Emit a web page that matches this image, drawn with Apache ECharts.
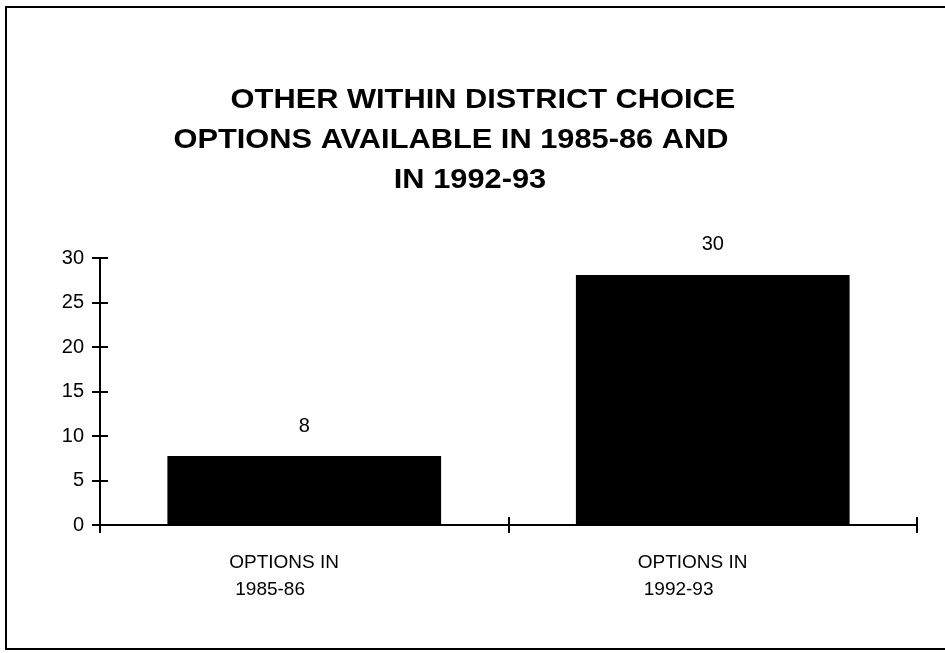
<!DOCTYPE html>
<html>
<head>
<meta charset="utf-8">
<script src="https://cdn.jsdelivr.net/npm/echarts@6/dist/echarts.min.js"></script>
<style>
  html, body { margin: 0; padding: 0; background: #fff; }
  #main { width: 945px; height: 653px; }
</style>
</head>
<body>
<div id="main"></div>
<script>
// 数据
var categories = ['OPTIONS IN\n1985-86', 'OPTIONS IN\n1992-93'];
var barValues = [7.75, 28.1];      // bar heights as drawn
var barLabels = ['8', '30'];       // printed values above the bars
var yMin = 0, yMax = 30, yStep = 5;
var titleLines = ['OTHER WITHIN DISTRICT CHOICE', 'OPTIONS AVAILABLE IN 1985-86 AND', 'IN 1992-93'];

var font = '"Liberation Sans", Arial, sans-serif';

var myChart = echarts.init(document.getElementById('main'), null, { renderer: 'canvas' });

// 标题，三行各自居中
function titleText(i, x, y) {
    return {
        type: 'text',
        x: x,
        y: y,
        scaleX: 1.1,
        style: {
            text: titleLines[i],
            fill: '#000',
            font: 'bold 28px ' + font,
            textAlign: 'center',
            textVerticalAlign: 'middle'
        }
    };
}

var tickStyle = { color: '#000', width: 2 };

var option = {
    backgroundColor: '#fff',
    animation: false,
    grid: { left: 100, right: 28, top: 258, bottom: 128 },
    graphic: [
        {
            type: 'rect',
            shape: { x: 6, y: 7, width: 960, height: 642 },
            style: { fill: 'none', stroke: '#000', lineWidth: 2 }
        },
        titleText(0, 483, 100),
        titleText(1, 451, 140),
        titleText(2, 470, 180)
    ],
    xAxis: [
        {
            type: 'category',
            data: categories,
            boundaryGap: true,
            axisLine: { show: true, lineStyle: { color: '#000', width: 2 } },
            axisTick: { show: true, interval: 0, alignWithLabel: false, length: 8, lineStyle: tickStyle },
            axisLabel: {
                color: '#000',
                margin: 24,
                width: 150,
                formatter: function (v) {
                    var p = v.split('\n');
                    return '{a|' + p[0] + '}\n{b|' + p[1] + '}';
                },
                rich: {
                    a: { fontFamily: font, fontSize: 19, color: '#000', align: 'left', lineHeight: 27 },
                    b: { fontFamily: font, fontSize: 19, color: '#000', align: 'left', lineHeight: 27, padding: [0, 0, 0, 6] }
                }
            }
        },
        {
            // 内侧刻度，做出穿过轴线的效果
            type: 'category',
            data: categories,
            position: 'bottom',
            boundaryGap: true,
            axisLine: { show: false },
            axisTick: { show: true, interval: 0, inside: true, length: 8, lineStyle: tickStyle },
            axisLabel: { show: false }
        }
    ],
    yAxis: [
        {
            type: 'value',
            min: yMin,
            max: yMax,
            interval: yStep,
            axisLine: { show: true, lineStyle: { color: '#000', width: 2 } },
            axisTick: { show: true, length: 8, lineStyle: tickStyle },
            splitLine: { show: false },
            axisLabel: { color: '#000', fontFamily: font, fontSize: 20, margin: 16 }
        },
        {
            type: 'value',
            position: 'left',
            min: yMin,
            max: yMax,
            interval: yStep,
            axisLine: { show: false },
            axisTick: { show: true, inside: true, length: 8, lineStyle: tickStyle },
            splitLine: { show: false },
            axisLabel: { show: false }
        }
    ],
    series: [
        {
            type: 'bar',
            data: barValues,
            barCategoryGap: '33%',
            itemStyle: { color: '#000' },
            label: {
                show: true,
                position: 'top',
                distance: 20,
                color: '#000',
                fontFamily: font,
                fontSize: 20,
                formatter: function (p) { return barLabels[p.dataIndex]; }
            }
        }
    ]
};

myChart.setOption(option);
</script>
</body>
</html>
